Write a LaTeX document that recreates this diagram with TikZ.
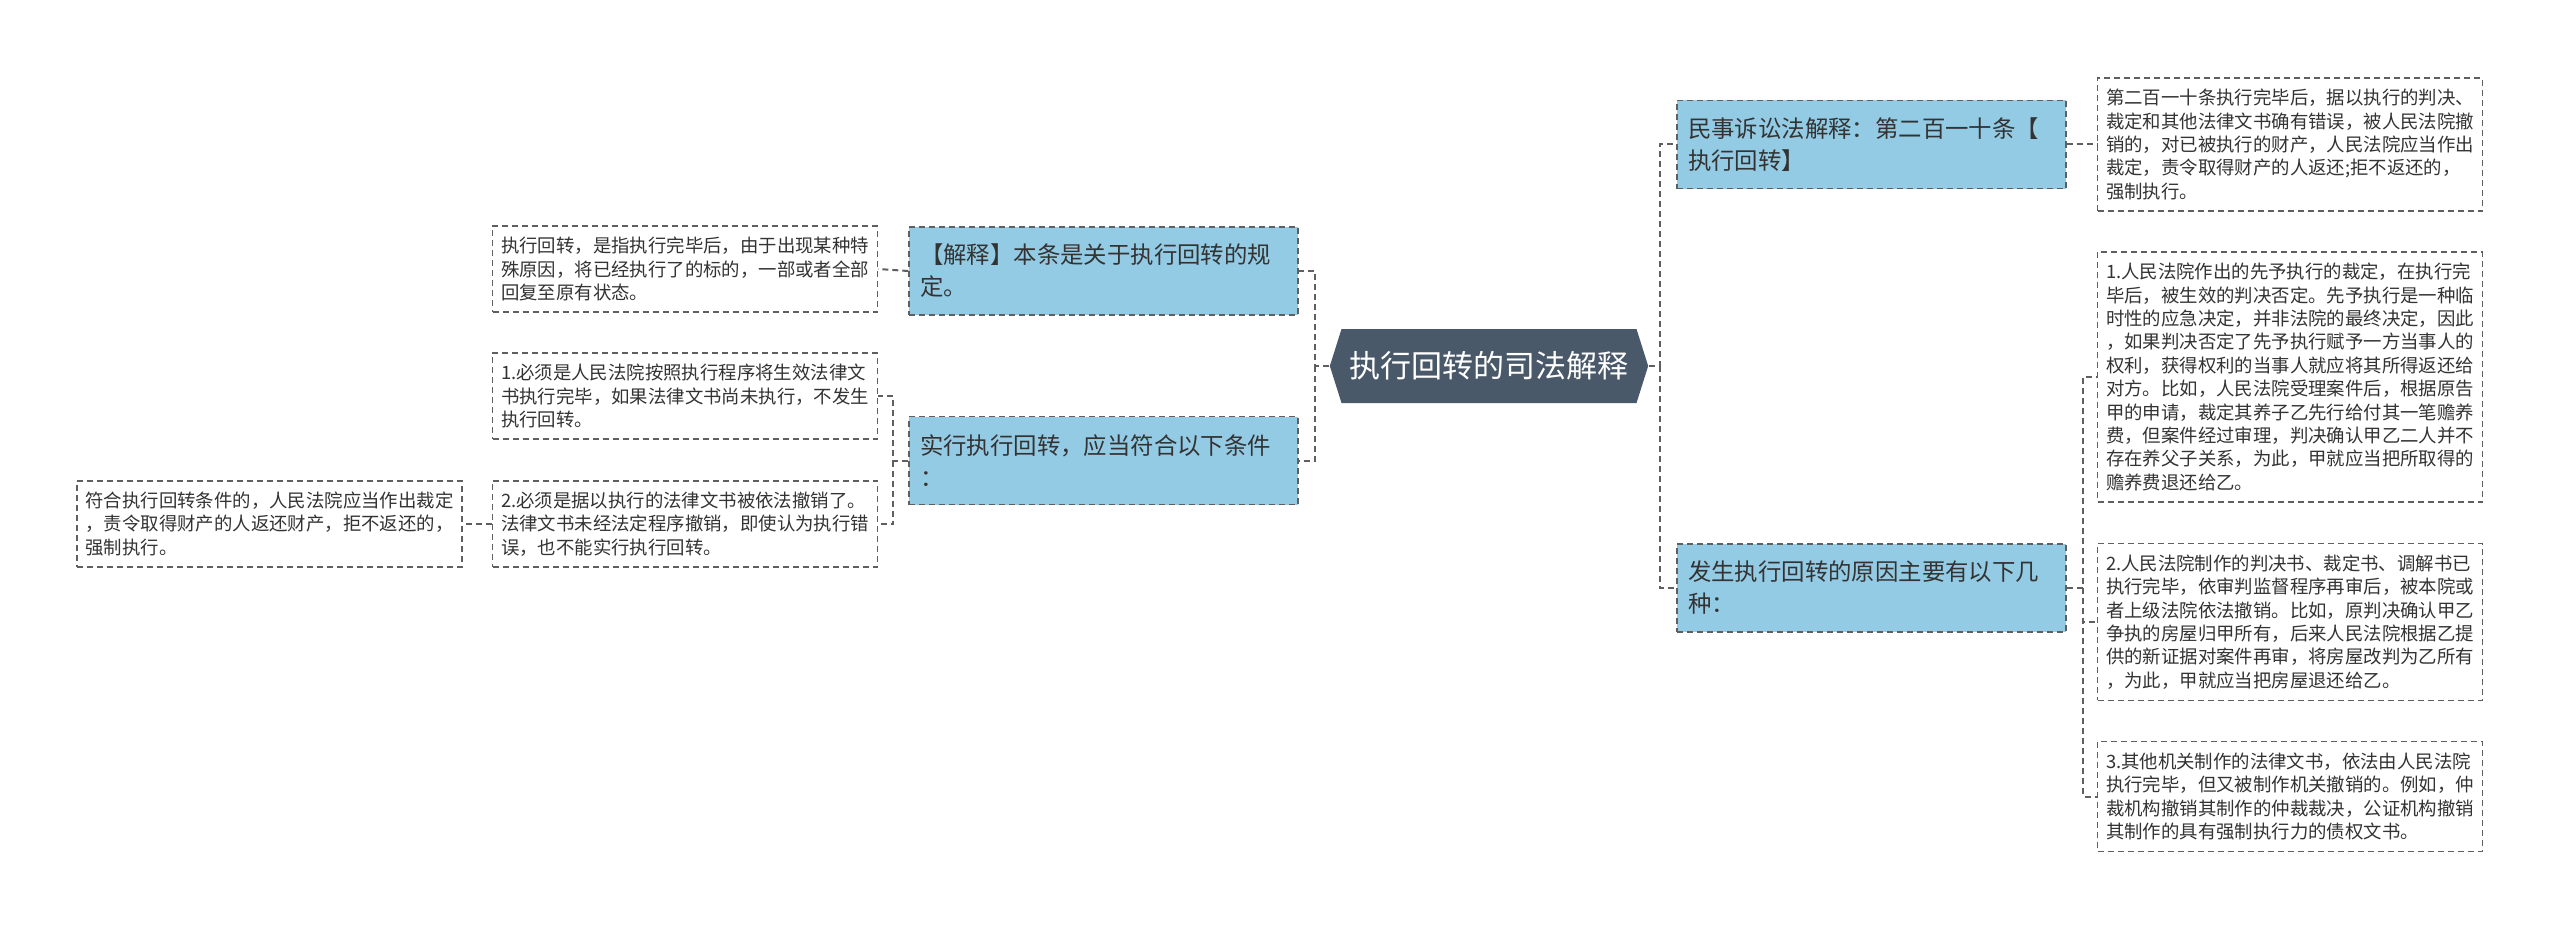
\documentclass[tikz,border=0pt]{standalone}
\usepackage{fontspec}
\setmainfont{Noto Sans CJK SC}
\usetikzlibrary{positioning,shapes.symbols}
\definecolor{topicfill}{RGB}{74,89,106}
\definecolor{branchfill}{RGB}{148,203,228}
\definecolor{linegray}{RGB}{95,95,95}
\definecolor{textgray}{RGB}{51,51,51}

\begin{document}
\begin{tikzpicture}[
    x=0.5pt, y=-0.5pt,
    topic/.style={signal, signal to=west and east, signal pointer angle=145, fill=topicfill, text=white, minimum width=156.5pt, minimum height=37pt, inner xsep=4pt, font=\fontsize{15.5pt}{18pt}\selectfont},
    branch/.style={draw=linegray, dash pattern=on 3pt off 2pt, line width=0.75pt, fill=branchfill, text=textgray, text width=183.5pt, inner xsep=5.5pt, minimum height=44pt, align=left, font=\fontsize{11.7pt}{16pt}\selectfont},
    leaf/.style={draw=linegray, dash pattern=on 3pt off 2pt, line width=0.7pt, fill=white, text=textgray, text width=184pt, inner xsep=4.25pt, inner ysep=5.5pt, align=left, font=\fontsize{9.2pt}{11.7pt}\selectfont},
    link/.style={draw=linegray, dash pattern=on 3pt off 2pt, line width=1pt}
]
\useasboundingbox[fill=white] (0,0) rectangle (2560,931);

% 中心
\node[topic] (root) at (1489,366) {执行回转的司法解释};

% 左侧
\node[branch] (b1) at (1103.5,271) {【解释】本条是关于执行回转的规\\定。};
\node[leaf] (b1a) at (685,269) {执行回转，是指执行完毕后，由于出现某种特\\殊原因，将已经执行了的标的，一部或者全部\\回复至原有状态。};

\node[branch] (b2) at (1103.5,460.5) {实行执行回转，应当符合以下条件\\：};
\node[leaf] (b2a) at (685,396) {1.必须是人民法院按照执行程序将生效法律文\\书执行完毕，如果法律文书尚未执行，不发生\\执行回转。};
\node[leaf] (b2b) at (685,524) {2.必须是据以执行的法律文书被依法撤销了。\\法律文书未经法定程序撤销，即使认为执行错\\误，也不能实行执行回转。};
\node[leaf] (b2c) at (269.5,524) {符合执行回转条件的，人民法院应当作出裁定\\，责令取得财产的人返还财产，拒不返还的，\\强制执行。};

% 右侧
\node[branch] (r1) at (1871.5,144.5) {民事诉讼法解释：第二百一十条【\\执行回转】};
\node[leaf] (r1a) at (2290,144.5) {第二百一十条执行完毕后，据以执行的判决、\\裁定和其他法律文书确有错误，被人民法院撤\\销的，对已被执行的财产，人民法院应当作出\\裁定，责令取得财产的人返还;拒不返还的，\\强制执行。};

\node[branch] (r2) at (1871.5,588) {发生执行回转的原因主要有以下几\\种：};
\node[leaf] (r2a) at (2290,377) {1.人民法院作出的先予执行的裁定，在执行完\\毕后，被生效的判决否定。先予执行是一种临\\时性的应急决定，并非法院的最终决定，因此\\，如果判决否定了先予执行赋予一方当事人的\\权利，获得权利的当事人就应将其所得返还给\\对方。比如，人民法院受理案件后，根据原告\\甲的申请，裁定其养子乙先行给付其一笔赡养\\费，但案件经过审理，判决确认甲乙二人并不\\存在养父子关系，为此，甲就应当把所取得的\\赡养费退还给乙。};
\node[leaf] (r2b) at (2290,622) {2.人民法院制作的判决书、裁定书、调解书已\\执行完毕，依审判监督程序再审后，被本院或\\者上级法院依法撤销。比如，原判决确认甲乙\\争执的房屋归甲所有，后来人民法院根据乙提\\供的新证据对案件再审，将房屋改判为乙所有\\，为此，甲就应当把房屋退还给乙。};
\node[leaf] (r2c) at (2290,796.5) {3.其他机关制作的法律文书，依法由人民法院\\执行完毕，但又被制作机关撤销的。例如，仲\\裁机构撤销其制作的仲裁裁决，公证机构撤销\\其制作的具有强制执行力的债权文书。};

% 连线
\coordinate (lbus) at (1315,0);
\coordinate (lbus2) at (893,0);
\coordinate (rbus) at (1660,0);
\coordinate (rbus2) at (2083,0);

\draw[link] (root.west) -- (root.west -| lbus) |- (b1.east);
\draw[link] (root.west -| lbus) |- (b2.east);
\draw[link] (b1.west) -- (b1a.east);
\draw[link] (b2.west) -- (b2.west -| lbus2) |- (b2a.east);
\draw[link] (b2.west -| lbus2) |- (b2b.east);
\draw[link] (b2b.west) -- (b2c.east);

\draw[link] (root.east) -- (root.east -| rbus) |- (r1.west);
\draw[link] (root.east -| rbus) |- (r2.west);
\draw[link] (r1.east) -- (r1a.west);
\draw[link] (r2.east) -- (r2.east -| rbus2) |- (r2a.west);
\draw[link] (r2.east -| rbus2) |- (r2b.west);
\draw[link] (r2.east -| rbus2) |- (r2c.west);

\end{tikzpicture}
\end{document}
